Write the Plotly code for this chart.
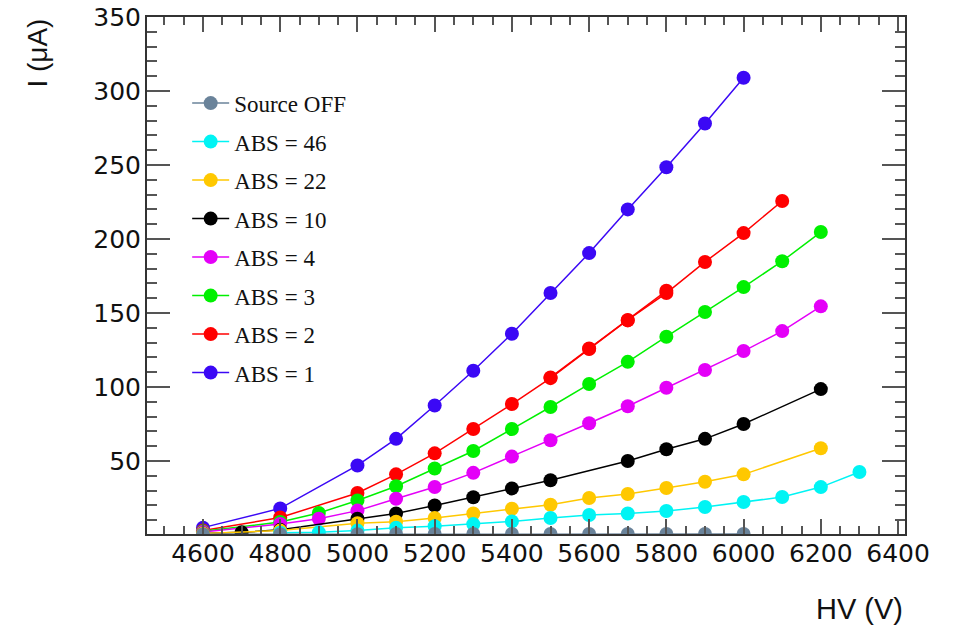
import plotly.graph_objects as go

# ---------------- data ----------------
hv_off = [4600, 4800, 5000, 5100, 5200, 5300, 5400, 5500, 5600, 5700, 5800, 5900, 6000]
i_off = [0.5, 0.6, 0.6, 0.7, 0.7, 0.7, 0.7, 0.7, 0.7, 0.7, 0.7, 0.7, 0.7]

hv_46 = [4800, 4900, 5000, 5100, 5200, 5300, 5400, 5500, 5600, 5700, 5800, 5900, 6000, 6100, 6200, 6300]
i_46 = [1.6, 1.8, 3.0, 5.0, 6.0, 7.4, 9.2, 11.5, 13.5, 14.6, 16.2, 18.9, 22.3, 25.7, 32.4, 42.6]

hv_22 = [4600, 4800, 5000, 5100, 5200, 5300, 5400, 5500, 5600, 5700, 5800, 5900, 6000, 6200]
i_22 = [1.0, 3.0, 8.0, 9.0, 11.5, 14.6, 17.8, 20.5, 25.0, 27.7, 31.8, 36.0, 41.0, 58.6]

hv_10 = [4600, 4700, 4800, 5000, 5100, 5200, 5300, 5400, 5500, 5700, 5800, 5900, 6000, 6200]
i_10 = [1.0, 1.8, 3.5, 11.0, 14.5, 20.0, 25.5, 31.5, 37.0, 50.0, 58.0, 65.0, 75.0, 98.6]

hv_4 = [4600, 4800, 4900, 5000, 5100, 5200, 5300, 5400, 5500, 5600, 5700, 5800, 5900, 6000, 6100, 6200]
i_4 = [2.0, 7.5, 11.0, 16.5, 24.5, 32.5, 42.0, 53.0, 64.0, 75.5, 87.0, 99.5, 111.5, 124.3, 137.8, 154.5]

hv_3 = [4600, 4800, 4900, 5000, 5100, 5200, 5300, 5400, 5500, 5600, 5700, 5800, 5900, 6000, 6100, 6200]
i_3 = [2.5, 8.8, 14.9, 23.3, 33.0, 45.0, 56.8, 71.6, 86.5, 102.0, 117.0, 134.0, 150.7, 167.5, 185.0, 204.7]

hv_2 = [4600, 4800, 5000, 5100, 5200, 5300, 5400, 5500, 5600, 5700, 5800, 5900, 6000, 6100]
i_2 = [3.0, 11.8, 28.4, 41.0, 55.2, 71.6, 88.5, 106.0, 125.7, 145.3, 163.5, 184.5, 204.0, 225.7]
hv_2b = [5500, 5600, 5700, 5800]
i_2b = [106.5, 126.0, 145.0, 165.0]

hv_1 = [4600, 4800, 5000, 5100, 5200, 5300, 5400, 5500, 5600, 5700, 5800, 5900, 6000]
i_1 = [5.0, 18.0, 47.0, 65.0, 87.5, 111.0, 136.0, 163.5, 190.5, 220.0, 248.5, 278.0, 309.0]

x_ticks = [4600, 4800, 5000, 5200, 5400, 5600, 5800, 6000, 6200, 6400]
y_ticks = [50, 100, 150, 200, 250, 300, 350]

# drawn from ABS = 1 up to Source OFF; legend rank puts Source OFF first
series = [
    ("ABS = 1", hv_1, i_1, "#3b08f5", 8),
    ("ABS = 2", hv_2, i_2, "#ff0000", 7),
    ("ABS = 3", hv_3, i_3, "#00f000", 6),
    ("ABS = 4", hv_4, i_4, "#e400f8", 5),
    ("ABS = 10", hv_10, i_10, "#000000", 4),
    ("ABS = 22", hv_22, i_22, "#ffc800", 3),
    ("ABS = 46", hv_46, i_46, "#00f4f4", 2),
    ("Source OFF", hv_off, i_off, "#6a839a", 1),
]

fig = go.Figure()
for name, xs, ys, col, rank in series:
    grp = "g%d" % rank
    fig.add_trace(go.Scatter(
        x=xs, y=ys, name=name, mode="lines+markers", legendgroup=grp,
        legendrank=rank,
        line=dict(color=col, width=1.5),
        marker=dict(color=col, size=14, line=dict(width=0)),
    ))
    if name == "ABS = 2":
        fig.add_trace(go.Scatter(
            x=hv_2b, y=i_2b, name=name, mode="lines+markers", legendgroup=grp,
            legendrank=rank, showlegend=False, line=dict(color=col, width=1.5),
            marker=dict(color=col, size=14, line=dict(width=0)),
        ))

axis_common = dict(
    showgrid=False, zeroline=False, showline=True, linecolor="#333333",
    linewidth=2, mirror="ticks", ticks="inside", tickcolor="#555555",
    tickwidth=2, automargin=False, ticklabeloverflow="allow",
    tickfont=dict(family="DejaVu Sans", size=25, color="#111111"),
)

fig.update_layout(
    width=956, height=626,
    margin=dict(l=147, r=51, t=17, b=92),
    paper_bgcolor="white", plot_bgcolor="white",
    showlegend=True,
    legend=dict(
        x=0.053, y=0.875, xanchor="left", yanchor="top",
        traceorder="grouped", tracegroupgap=5.6,
        font=dict(family="Liberation Serif", size=23, color="#111111"),
        bgcolor="rgba(0,0,0,0)", itemwidth=37,
    ),
    xaxis=dict(
        range=[4455, 6418], tickvals=x_ticks, ticklen=15,
        minor=dict(dtick=50, tick0=4400, ticklen=8, ticks="inside", tickcolor="#555555", tickwidth=2),
        ticklabelstandoff=-4,
        **axis_common,
    ),
    yaxis=dict(
        range=[0.7, 350], tickvals=y_ticks, ticklen=23,
        minor=dict(dtick=10, tick0=0, ticklen=10, ticks="inside", tickcolor="#555555", tickwidth=2),
        ticklabelstandoff=-1,
        **axis_common,
    ),
    annotations=[
        dict(text="HV (V)", xref="paper", yref="paper", x=1.0, y=-0.145,
             xanchor="right", yanchor="middle", showarrow=False,
             font=dict(family="Liberation Sans", size=29, color="#111111")),
        dict(text="I (μA)", xref="paper", yref="paper", x=-0.145, y=1.0,
             xanchor="center", yanchor="top", showarrow=False, textangle=-90,
             font=dict(family="Liberation Sans", size=28, color="#111111")),
    ],
)

# remove the default 8 px page margin so the figure fills the window exactly
fig.write_html("out.html", config={"displayModeBar": False},
               post_script="document.body.style.margin='0px';")
